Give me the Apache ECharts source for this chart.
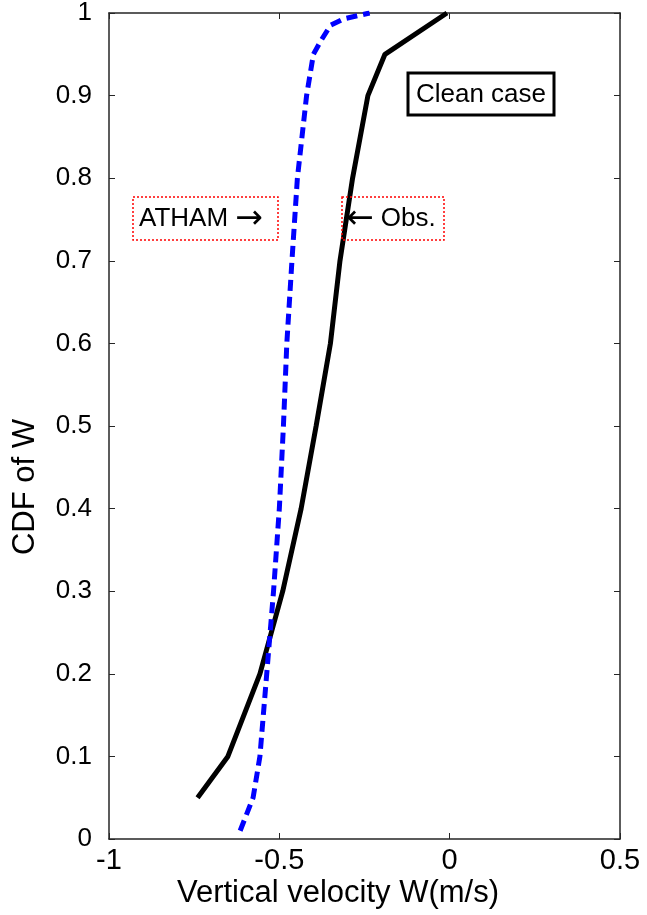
<!DOCTYPE html>
<html>
<head>
<meta charset="utf-8">
<script src="https://cdn.jsdelivr.net/npm/echarts@6/dist/echarts.min.js"></script>
<style>
  html, body { margin: 0; padding: 0; background: #fff; }
  #chart { width: 647px; height: 915px; }
</style>
</head>
<body>
<div id="chart"></div>
<script>
// Observed CDF of vertical velocity (clean case)
const cdfObs = [0.05, 0.1, 0.2, 0.3, 0.4, 0.5, 0.6, 0.7, 0.8, 0.9, 0.95, 1.0]
const wObs = [-0.74, -0.651, -0.557, -0.49, -0.436, -0.392, -0.35, -0.322, -0.285, -0.24, -0.19, -0.008]

// ATHAM model CDF
const cdfAtham = [0.01, 0.05, 0.1, 0.2, 0.3, 0.4, 0.5, 0.6, 0.7, 0.8, 0.9, 0.95, 0.965, 0.985, 0.993, 1.0]
const wAtham = [-0.615, -0.577, -0.557, -0.537, -0.517, -0.5, -0.488, -0.478, -0.463, -0.447, -0.42, -0.4, -0.38, -0.35, -0.31, -0.235]

const xTicks = [-1, -0.5, 0, 0.5]
const yTicks = [0, 0.1, 0.2, 0.3, 0.4, 0.5, 0.6, 0.7, 0.8, 0.9, 1]

const FONT = '"Liberation Sans", Arial, Helvetica, sans-serif'
const ARROW_FONT = '"DejaVu Sans", sans-serif'
const axisColor = '#262626'

const chart = echarts.init(document.getElementById('chart'), null, { renderer: 'canvas' })

const pairs = (xs, ys) => xs.map((x, i) => [x, ys[i]])

const baseX = {
  type: 'value',
  min: xTicks[0],
  max: xTicks[xTicks.length - 1],
  interval: 0.5,
  splitLine: { show: false },
  axisLine: { show: true, onZero: false, lineStyle: { color: axisColor, width: 1.5 } },
  axisTick: { show: true, inside: true, length: 6, lineStyle: { color: axisColor, width: 1 } }
}
const baseY = {
  type: 'value',
  min: yTicks[0],
  max: yTicks[yTicks.length - 1],
  interval: 0.1,
  splitLine: { show: false },
  axisLine: { show: true, onZero: false, lineStyle: { color: axisColor, width: 1.5 } },
  axisTick: { show: true, inside: true, length: 6, lineStyle: { color: axisColor, width: 1 } }
}

const annoRich = {
  t: { fontFamily: FONT, fontSize: 26, color: '#000' },
  arr: { fontFamily: ARROW_FONT, fontSize: 33, color: '#000' }
}

chart.setOption({
  animation: false,
  backgroundColor: '#fff',
  grid: { left: 109, right: 27, top: 13, bottom: 76, containLabel: false },
  xAxis: [
    Object.assign({}, baseX, {
      position: 'bottom',
      axisLabel: { color: '#000', fontSize: 29, fontFamily: FONT, margin: 7 }
    }),
    Object.assign({}, baseX, { position: 'top', axisLabel: { show: false } })
  ],
  yAxis: [
    Object.assign({}, baseY, {
      position: 'left',
      axisLabel: { color: '#000', fontSize: 26, fontFamily: FONT, margin: 17 }
    }),
    Object.assign({}, baseY, { position: 'right', axisLabel: { show: false } })
  ],
  series: [
    {
      name: 'Obs.',
      type: 'line',
      data: pairs(wObs, cdfObs),
      showSymbol: false,
      symbol: 'none',
      lineStyle: { color: '#000', width: 5 },
      z: 3
    },
    {
      name: 'ATHAM',
      type: 'line',
      data: pairs(wAtham, cdfAtham),
      showSymbol: false,
      symbol: 'none',
      lineStyle: { color: '#0000ff', width: 5, type: [11, 6] },
      z: 4
    }
  ],
  graphic: [
    // axis titles
    {
      type: 'text',
      x: 338, y: 893,
      style: {
        text: 'Vertical velocity W(m/s)', fill: '#000',
        font: '31px ' + FONT, align: 'center', verticalAlign: 'middle'
      }
    },
    {
      type: 'text',
      x: 25, y: 487, rotation: Math.PI / 2,
      style: {
        text: 'CDF of W', fill: '#000',
        font: '31px ' + FONT, align: 'center', verticalAlign: 'middle'
      }
    },
    // "Clean case" box
    {
      type: 'rect',
      shape: { x: 408, y: 73, width: 146, height: 42 },
      style: { fill: '#fff', stroke: '#000', lineWidth: 3 },
      z: 10
    },
    {
      type: 'text',
      x: 481, y: 95,
      style: {
        text: 'Clean case', fill: '#000',
        font: '26px ' + FONT, align: 'center', verticalAlign: 'middle'
      },
      z: 11
    },
    // ATHAM annotation
    {
      type: 'rect',
      shape: { x: 133, y: 197, width: 145, height: 43 },
      style: { fill: 'rgba(255,255,255,0)', stroke: '#ff0000', lineWidth: 1.5, lineDash: [2, 2] },
      z: 10
    },
    {
      type: 'text',
      x: 139, y: 219,
      style: {
        text: '{t|ATHAM }{arr|\u2192}', rich: annoRich,
        align: 'left', verticalAlign: 'middle'
      },
      z: 11
    },
    // Obs annotation
    {
      type: 'rect',
      shape: { x: 342, y: 197, width: 102, height: 43 },
      style: { fill: 'rgba(255,255,255,0)', stroke: '#ff0000', lineWidth: 1.5, lineDash: [2, 2] },
      z: 10
    },
    {
      type: 'text',
      x: 346, y: 219,
      style: {
        text: '{arr|\u2190}{t| Obs.}', rich: annoRich,
        align: 'left', verticalAlign: 'middle'
      },
      z: 11
    }
  ]
})
</script>
</body>
</html>
